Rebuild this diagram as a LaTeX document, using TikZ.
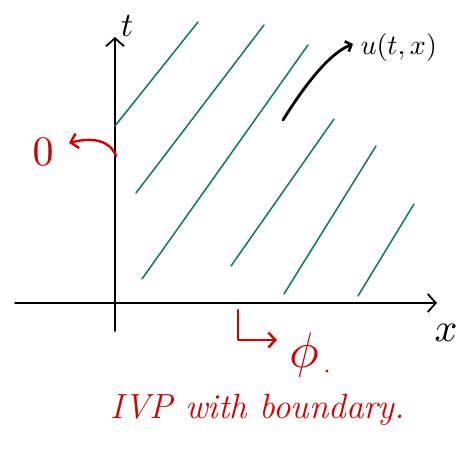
\documentclass[tikz,border=0pt]{standalone}
\usepackage{fontspec}
\usetikzlibrary{arrows.meta}
\definecolor{hgreen}{RGB}{12,120,92}
\definecolor{hred}{RGB}{212,0,0}
\begin{document}
\begin{tikzpicture}[x=1pt,y=-1pt,
  axis/.style={line width=1.8pt, black, line cap=round, -{Straight Barb[length=8pt,width=18pt,line width=1.8pt]}},
  charline/.style={hgreen, line width=1.5pt, line cap=round},
  redpen/.style={hred, line width=2.4pt, line cap=round, line join=round},
  redtip/.style={-{Straight Barb[length=7pt,width=15pt,line width=2.4pt]}},
  blacktip/.style={-{Straight Barb[length=5pt,width=11pt,line width=2.6pt]}},
  lbl/.style={inner sep=0pt}]
\useasboundingbox (0,0) rectangle (461,461);
% axes
\coordinate (xs) at (15,303);
\coordinate (xe) at (437,303);
\coordinate (ys) at (115,331);
\coordinate (ye) at (115,37);
\draw[axis] (xs) -- (xe);
\draw[axis] (ys) -- (ye);
\node[lbl, scale=3.4] (tlab) at (127,26) {$t$};
\node[lbl, scale=4] (xlab) at (446,333) {$x$};
% characteristic lines
\coordinate (a1) at (115,126); \coordinate (b1) at (198,22);
\coordinate (a2) at (136,193); \coordinate (b2) at (264,25);
\coordinate (a3) at (142,279); \coordinate (b3) at (308,45);
\coordinate (a4) at (231,266); \coordinate (b4) at (334,119);
\coordinate (a5) at (284,294); \coordinate (b5) at (376,146);
\coordinate (a6) at (358,296); \coordinate (b6) at (414,204);
\foreach \i in {1,...,6} \draw[charline] (a\i) -- (b\i);
% u(t,x)
\coordinate (cs) at (283,120);
\coordinate (ce) at (353,44);
\draw[black, line width=2.8pt, line cap=round, blacktip] (cs) .. controls (303,88) and (328,54) .. (ce);
\node[lbl, anchor=west, scale=2.8] (ulab) at (360,47) {$u(t,x)$};
% 0 on t-axis
\coordinate (os) at (116,156);
\coordinate (oe) at (69,143);
\draw[redpen, redtip] (os) .. controls (110,140) and (92,137) .. (oe);
\node[lbl, hred, scale=4.2] (zero) at (43,152) {$0$};
% phi on x-axis
\coordinate (ps) at (238,310);
\coordinate (pc) at (238,340);
\coordinate (pe) at (277,340);
\draw[redpen, redtip] (ps) -- (pc) -- (pe);
\node[lbl, hred, scale=5] (phi) at (304,355) {$\phi$};
\fill[hred] (327,371) circle (1.6pt);
% caption
\node[lbl, hred] (cap) at (258,410) {\fontsize{35}{35}\selectfont\itshape IVP with boundary.};
\end{tikzpicture}
\end{document}
